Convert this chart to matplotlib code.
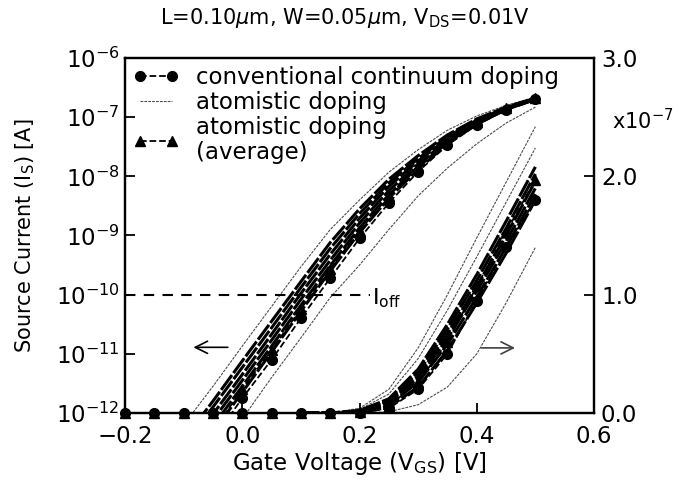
import numpy as np
import matplotlib
matplotlib.use("Agg")
import matplotlib.pyplot as plt
from matplotlib.lines import Line2D

# gate voltage grids [V]
vgs_log = [-0.10, -0.05, 0.0, 0.05, 0.10, 0.15, 0.20, 0.25, 0.30, 0.35, 0.40, 0.45, 0.50]
vgs_lin = [-0.20, -0.15, -0.10, -0.05, 0.0, 0.05, 0.10, 0.15, 0.20,
           0.25, 0.30, 0.35, 0.40, 0.45, 0.50]
vgs_lin_atom = [0.10, 0.15, 0.20, 0.25, 0.30, 0.35, 0.40, 0.45, 0.50]

# log10 of source current (left axis)
conv_log = [-13.10, -12.45, -11.75, -11.10, -10.40, -9.72, -9.05, -8.45, -7.92, -7.47, -7.13, -6.88, -6.70]
avg_log = [-12.95, -12.30, -11.60, -10.93, -10.24, -9.56, -8.92, -8.33, -7.82, -7.40, -7.08, -6.85, -6.68]
# first and last rows are the outlying devices, the rest form the dense band
atom_log = [
    [-12.20, -11.55, -10.87, -10.20, -9.53, -8.90, -8.40, -7.93, -7.55, -7.22, -6.98, -6.80, -6.66],
    [-12.45, -11.80, -11.12, -10.45, -9.78, -9.12, -8.55, -8.05, -7.65, -7.30, -7.03, -6.83, -6.68],
    [-12.55, -11.90, -11.23, -10.56, -9.88, -9.22, -8.63, -8.11, -7.70, -7.33, -7.05, -6.84, -6.68],
    [-12.70, -12.02, -11.35, -10.67, -9.98, -9.32, -8.71, -8.17, -7.74, -7.36, -7.07, -6.85, -6.69],
    [-12.80, -12.12, -11.45, -10.77, -10.08, -9.42, -8.79, -8.24, -7.79, -7.40, -7.09, -6.86, -6.69],
    [-12.90, -12.22, -11.55, -10.87, -10.18, -9.51, -8.87, -8.31, -7.84, -7.43, -7.11, -6.87, -6.70],
    [-13.00, -12.32, -11.65, -10.97, -10.28, -9.60, -8.95, -8.37, -7.88, -7.45, -7.12, -6.87, -6.70],
    [-13.50, -12.80, -12.10, -11.40, -10.73, -10.05, -9.50, -8.90, -8.33, -7.86, -7.45, -7.10, -6.83],
]

# source current in units of 1e-7 A (right axis)
conv_lin = [0.0, 0.0, 0.0, 0.0, 0.0, 0.0, 0.0, 0.0, 0.0, 0.04, 0.20, 0.50, 0.95, 1.40, 1.80]
avg_lin = [0.0, 0.0, 0.0, 0.0, 0.0, 0.0, 0.0, 0.0, 0.01, 0.06, 0.26, 0.60, 1.07, 1.53, 1.97]
atom_lin = [
    [0.0, 0.0, 0.04, 0.20, 0.55, 1.00, 1.48, 1.95, 2.42],
    [0.0, 0.0, 0.03, 0.16, 0.46, 0.87, 1.32, 1.78, 2.24],
    [0.0, 0.0, 0.02, 0.12, 0.37, 0.75, 1.17, 1.62, 2.08],
    [0.0, 0.0, 0.02, 0.11, 0.34, 0.71, 1.12, 1.56, 2.02],
    [0.0, 0.0, 0.01, 0.10, 0.31, 0.67, 1.07, 1.50, 1.96],
    [0.0, 0.0, 0.01, 0.09, 0.29, 0.63, 1.03, 1.45, 1.90],
    [0.0, 0.0, 0.01, 0.07, 0.26, 0.58, 0.98, 1.40, 1.85],
    [0.0, 0.0, 0.00, 0.05, 0.22, 0.53, 0.93, 1.35, 1.80],
    [0.0, 0.0, 0.00, 0.01, 0.07, 0.22, 0.50, 0.93, 1.40],
]

i_off = 1e-10

plt.rcParams['font.family'] = ['DejaVu Sans']
plt.rcParams['mathtext.fontset'] = 'dejavusans'

fig = plt.figure(figsize=(6.85, 4.8), dpi=100)
ax = fig.add_axes([0.1825, 0.1396, 0.6847, 0.7396])
ax2 = ax.twinx()

atom_style = dict(color='0.3', lw=0.8, ls=(0, (2.5, 1)))
band_style = dict(color='k', lw=2.2, ls=(0, (6, 0.8)))
mk = 7


def atom_line(a, x, y, outer):
    a.plot(x, y, **(atom_style if outer else band_style))


# log scale: individual atomistic devices, average and continuum
for i, row in enumerate(atom_log):
    atom_line(ax, vgs_log, 10 ** np.array(row), i in (0, len(atom_log) - 1))
ax.plot(vgs_log, 10 ** np.array(avg_log), 'k--', marker='^', ms=mk, lw=1.3)
ax.plot(vgs_log, 10 ** np.array(conv_log), 'k--', marker='o', ms=mk, lw=1.3)

# linear scale
for i, row in enumerate(atom_lin):
    atom_line(ax2, vgs_lin_atom, row, i in (0, 1, len(atom_lin) - 1))
ax2.plot(vgs_lin, avg_lin, 'k--', marker='^', ms=mk, lw=1.3, clip_on=False)
ax2.plot(vgs_lin, conv_lin, 'k--', marker='o', ms=mk, lw=1.3, clip_on=False)

# off-current criterion
ax.plot([-0.2, 0.218], [i_off, i_off], color='k', lw=1.5, dashes=(5, 4))
ax.text(0.222, i_off * 0.88, r'I$_{\rm off}$', fontsize=16, va='center', ha='left')

# arrows pointing to the axis each family belongs to
ax.annotate('', xy=(-0.088, 10 ** -10.89), xytext=(-0.02, 10 ** -10.89),
            arrowprops=dict(arrowstyle='->', lw=1.2, mutation_scale=22, color='k'))
ax2.annotate('', xy=(0.47, 0.55), xytext=(0.403, 0.55),
             arrowprops=dict(arrowstyle='->', lw=1.2, mutation_scale=22, color='0.25'))

ax.set_xlim(-0.2, 0.6)
ax.set_yscale('log')
ax.set_ylim(1e-12, 1e-6)
ax2.set_ylim(0, 3.0)

ax.set_xticks([-0.2, 0.0, 0.2, 0.4, 0.6])
ax.set_xticklabels(['\u22120.2', '0.0', '0.2', '0.4', '0.6'])
ax.set_yticks([10.0 ** k for k in range(-12, -5)])
ax.set_yticklabels([r'10$^{%d}$' % k for k in range(-12, -5)])
ax.minorticks_off()
ax2.set_yticks([0.0, 1.0, 2.0, 3.0])
ax2.set_yticklabels(['0.0', '1.0', '2.0', '3.0'])

ax.tick_params(axis='x', direction='in', length=7, width=1.3, labelsize=16.5, pad=9)
ax.tick_params(axis='y', direction='in', length=7, width=1.3, labelsize=16.5, pad=4)
ax2.tick_params(axis='y', direction='in', length=7, width=1.3, labelsize=16.5, pad=5)
for a in (ax, ax2):
    for s in a.spines.values():
        s.set_linewidth(1.6)

fig.text(0.893, 0.748, r'x10$^{-7}$', fontsize=15, ha='left', va='center')

ax.set_xlabel(r'Gate Voltage (V$_{\rm GS}$) [V]', fontsize=16.5, labelpad=1)
ax.set_ylabel(r'Source Current (I$_{\rm S}$) [A]', fontsize=15, labelpad=13)
fig.text(0.503, 0.962, r'L=0.10$\mu$m, W=0.05$\mu$m, V$_{\rm DS}$=0.01V',
         fontsize=15, ha='center', va='center')

handles = [
    Line2D([], [], color='k', ls='--', marker='o', ms=mk, lw=1.3),
    Line2D([], [], **atom_style),
    Line2D([], [], color='k', ls='--', marker='^', ms=mk, lw=1.3),
]
labels = ['conventional continuum doping', 'atomistic doping', 'atomistic doping\n(average)']
leg = ax2.legend(handles, labels, loc='upper left', frameon=False, numpoints=2,
                 fontsize=16.5, handlelength=2.0, handletextpad=0.75,
                 labelspacing=0.08, borderaxespad=0.15, borderpad=0.2)
leg.get_texts()[2].set_linespacing(1.15)

fig.savefig('out.png', dpi=100)
